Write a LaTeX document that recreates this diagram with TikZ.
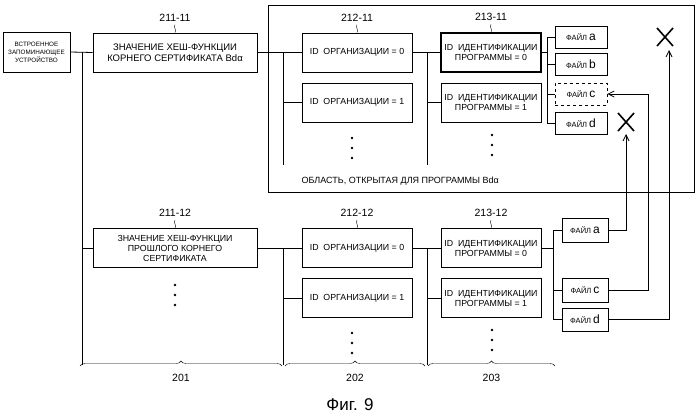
\documentclass[tikz,border=0pt]{standalone}
\usepackage{fontspec}
\setmainfont{Liberation Sans}
\usetikzlibrary{decorations.pathreplacing,arrows.meta}

\tikzset{
  box/.style={draw,thick,align=center,inner sep=1pt,font=\fontsize{8.8}{10}\selectfont},
  orgbox/.style={box,minimum width=110pt,minimum height=39pt},
  progbox/.style={box,minimum width=100pt,minimum height=39pt},
  filebox/.style={box,minimum width=52pt,minimum height=22pt},
  reflab/.style={font=\fontsize{10.5}{11}\selectfont},
  bus/.style={thick},
  xmark/.style={line width=1.6pt},
  ptr/.style={thick,-{Straight Barb[length=6pt,width=6pt]}}
}
\newcommand{\fl}[1]{\fontsize{7.5}{8}\selectfont ФАЙЛ \fontsize{12}{10}\selectfont #1}
\newcommand{\vdotsb}[1]{\foreach \dy in {0,10,20} \fill (#1) ++(0,\dy) circle (1.3pt);}

\begin{document}
\begin{tikzpicture}[x=1pt,y=-1pt]
\useasboundingbox (0,0) rectangle (700,418);

% storage
\node[box,minimum width=67pt,minimum height=40pt,font=\fontsize{6.3}{8}\selectfont] (mem) at (36.5,52) {ВСТРОЕННОЕ\\ЗАПОМИНАЮЩЕЕ\\УСТРОЙСТВО};

% region open for the program
\draw[thick] (268,5) rectangle (694,192);
\node[anchor=west,font=\fontsize{9}{10}\selectfont] (area) at (298,181) {ОБЛАСТЬ, ОТКРЫТАЯ ДЛЯ ПРОГРАММЫ Bdα};

% upper tree
\node[box,minimum width=164pt,minimum height=39pt,font=\fontsize{9.5}{11}\selectfont] (h11) at (175,52.5) {ЗНАЧЕНИЕ ХЕШ-ФУНКЦИИ\\КОРНЕГО СЕРТИФИКАТА Bdα};
\node[orgbox] (o110) at (357,52.5) {ID\ \ ОРГАНИЗАЦИИ = 0};
\node[orgbox] (o111) at (357,102.5) {ID\ \ ОРГАНИЗАЦИИ = 1};
\node[progbox,line width=1.4pt] (p110) at (491,52.5) {ID\ \ ИДЕНТИФИКАЦИИ\\ПРОГРАММЫ = 0};
\node[progbox] (p111) at (491,102.5) {ID\ \ ИДЕНТИФИКАЦИИ\\ПРОГРАММЫ = 1};
\node[filebox] (fa1) at (581,37.5) {\fl{a}};
\node[filebox] (fb1) at (581,64) {\fl{b}};
\node[filebox,dashed] (fc1) at (581,94) {\fl{c}};
\node[filebox] (fd1) at (581,123.5) {\fl{d}};
\vdotsb{352,138}
\vdotsb{492,135}

% lower tree
\node[box,minimum width=164pt,minimum height=39pt] (h12) at (175,248) {ЗНАЧЕНИЕ ХЕШ-ФУНКЦИИ\\ПРОШЛОГО КОРНЕГО\\СЕРТИФИКАТА};
\node[orgbox] (o120) at (357,248) {ID\ \ ОРГАНИЗАЦИИ = 0};
\node[orgbox] (o121) at (357,298) {ID\ \ ОРГАНИЗАЦИИ = 1};
\node[progbox] (p120) at (491,248) {ID\ \ ИДЕНТИФИКАЦИИ\\ПРОГРАММЫ = 0};
\node[progbox] (p121) at (491,298) {ID\ \ ИДЕНТИФИКАЦИИ\\ПРОГРАММЫ = 1};
\node[filebox,minimum width=46pt,minimum height=24pt] (fa2) at (585,230) {\fl{a}};
\node[filebox,minimum width=46pt,minimum height=24pt] (fc2) at (585,290) {\fl{c}};
\node[filebox,minimum width=46pt,minimum height=23pt] (fd2) at (585,319.5) {\fl{d}};
\vdotsb{175,285}
\vdotsb{352,333}
\vdotsb{492,330}

% reference labels with squiggles
\foreach \n/\t in {h11/211-11,o110/212-11,p110/213-11,h12/211-12,o120/212-12,p120/213-12}{
  \node[reflab] (l-\n) at ([yshift=15pt]\n.north) {\t};
  \draw (\n.north) .. controls ++(2,-3) and ++(-2,3) .. ++(0,-8);
}

% buses
\coordinate (b0) at (82,52);
\draw[bus] (mem.east) -- (h11.west);
\draw[bus] (b0) -- (82,365);
\draw[bus] (b0 |- h12.west) -- (h12.west);
\draw[bus] (h11.east) -- (o110.west);
\draw[bus] (283,52.5) -- (283,165);
\draw[bus] (283,102.5) -- (o111.west);
\draw[bus] (o110.east) -- (p110.west);
\draw[bus] (427,52.5) -- (427,165);
\draw[bus] (427,102.5) -- (p111.west);
\draw[bus] (p110.east) -- (547,52.5);
\draw[bus] (547,37.5) -- (547,123.5);
\foreach \f in {fa1,fb1,fc1,fd1} \draw[bus] (547,0 |- \f.west) -- (\f.west);

\draw[bus] (h12.east) -- (o120.west);
\draw[bus] (283,248) -- (283,365);
\draw[bus] (283,298) -- (o121.west);
\draw[bus] (o120.east) -- (p120.west);
\draw[bus] (427,248) -- (427,365);
\draw[bus] (427,298) -- (p121.west);
\draw[bus] (p120.east) -- (553,248);
\draw[bus] (553,230) -- (553,319.5);
\foreach \f in {fa2,fc2,fd2} \draw[bus] (553,0 |- \f.west) -- (\f.west);

% crosses
\coordinate (x1) at (665,37);
\coordinate (x2) at (626,122);
\foreach \c in {x1,x2} \draw[xmark] ([shift={(-8,-9)}]\c) -- ([shift={(8,9)}]\c) ([shift={(-8,9)}]\c) -- ([shift={(8,-9)}]\c);

% access pointers
\draw[ptr] (fa2.east) -| ([yshift=-12pt]x2);
\draw[ptr] (fc2.east) -| (648,94) -- (fc1.east);
\draw[ptr] (fd2.east) -| ([xshift=4pt,yshift=-13pt]x1);

% braces
\draw[decorate,decoration={brace,amplitude=5pt}] (80,366) -- (282,366) node[midway,below=5pt,reflab] (g201) {201};
\draw[decorate,decoration={brace,amplitude=5pt}] (285,366) -- (425,366) node[midway,below=5pt,reflab] (g202) {202};
\draw[decorate,decoration={brace,amplitude=5pt}] (428,366) -- (555,366) node[midway,below=5pt,reflab] (g203) {203};

\node[font=\fontsize{17}{18}\selectfont] (fig) at (350,405) {Фиг. 9};
\end{tikzpicture}
\end{document}
